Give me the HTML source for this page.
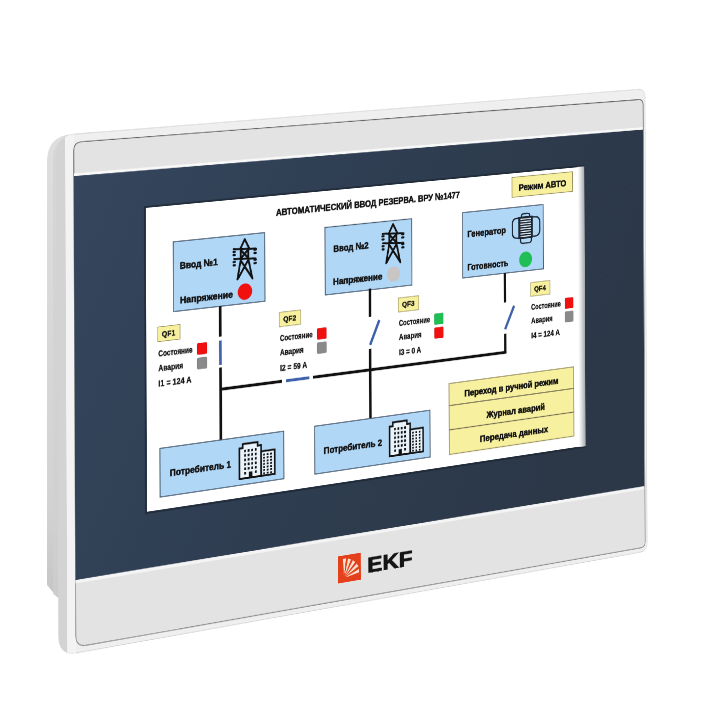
<!DOCTYPE html>
<html><head><meta charset="utf-8"><style>
html,body{margin:0;padding:0;background:#fff;width:720px;height:720px;overflow:hidden}
#side{position:absolute;left:0;top:0}
#plane{position:absolute;left:0;top:0;width:1160px;height:860px;transform-origin:0 0;transform:matrix3d(0.6251195189,-0.03381653369,0,0.0001130345282,0.00283459448,0.6824214927,0,-5.905477509e-07,0,0,1,0,23.60487165,110.1561996,0,1)}
#plane svg{display:block}
text{font-family:"Liberation Sans", sans-serif}
</style></head><body>
<svg id="side" width="720" height="720" viewBox="0 0 720 720"><defs><linearGradient id="hs" x1="0" y1="0" x2="0" y2="1"><stop offset="0" stop-color="#dedede"/><stop offset="0.8" stop-color="#d2d2d2"/><stop offset="1" stop-color="#c4c4c4"/></linearGradient></defs>
<path d="M47,585 L47,162 C47,147 53,138 66,135 L95,132 L95,605 L57,597 Z" fill="url(#hs)"/><path d="M53,595 L53,160 C53,150 57,141 66,137 L95,134 L95,605 Z" fill="#d0d0d0" opacity="0.6"/>
</svg>
<div id="plane"><svg width="1160" height="860" viewBox="-200 -160 1160 860">

<defs><linearGradient id="ng" x1="0" y1="0" x2="1" y2="0.3"><stop offset="0" stop-color="#35465d"/><stop offset="0.45" stop-color="#2f3e52"/><stop offset="1" stop-color="#2c3848"/></linearGradient><linearGradient id="gs" x1="0" y1="0" x2="0" y2="1"><stop offset="0" stop-color="#5e5e5e"/><stop offset="0.6" stop-color="#7a7a7a"/><stop offset="1" stop-color="#8a8a8a"/></linearGradient><clipPath id="rimclip"><path d="M-147.0,-89.0 Q-147.0,-119.0 -117.0,-119.0 L911.0,-119.0 Q925.0,-119.0 925.0,-105.0 L925.0,630.0 Q925.0,644.0 911.0,644.1 L-117.0,647.9 Q-147.0,648.0 -147.0,618.0 Z"/></clipPath></defs>
<path d="M-147.0,-89.0 Q-147.0,-119.0 -117.0,-119.0 L911.0,-119.0 Q925.0,-119.0 925.0,-105.0 L925.0,630.0 Q925.0,644.0 911.0,644.1 L-117.0,647.9 Q-147.0,648.0 -147.0,618.0 Z" fill="#efefef" stroke="#cfcfcf" stroke-width="1"/>
<g clip-path="url(#rimclip)">
<rect x="-147" y="-130" width="14" height="800" fill="#d3d3d3"/>
<rect x="-133" y="-130" width="14" height="800" fill="#f3f3f3"/>
</g>
<path d="M-119.0,-94.0 Q-119.0,-107.0 -106.0,-106.9 L912.0,-102.0 Q921.0,-102.0 921.0,-93.0 L921.0,628.0 Q921.0,637.0 912.0,637.0 L-102.0,639.0 Q-119.0,639.0 -119.0,622.0 Z" fill="#e3e3e3" stroke="url(#gs)" stroke-width="1.4"/>
<path d="M-119,-61 L920,-56 L920,-51 L-119,-56 Z" fill="#f8f8f8"/>
<path d="M-119,-57 L920,-52 L920,536.5 L-119,540 Z" fill="url(#ng)"/>
<path d="M-119,540 L920,536.5 L920,541.5 L-119,545 Z" fill="#f4f4f4"/>
<rect x="332" y="569" width="41" height="42" fill="#e5401c"/><clipPath id="lc"><rect x="335" y="573" width="35" height="34"/></clipPath><path clip-path="url(#lc)" d="M342.6,601.0 L340.8,574.0 L346.3,574.2 Z M343.5,601.2 L350.2,575.0 L355.3,576.9 Z M344.3,601.6 L358.8,578.8 L363.0,582.1 Z M345.0,602.3 L365.7,585.0 L368.8,589.5 Z M345.4,603.2 L370.7,593.6 L372.1,598.9 Z" fill="#fbe3d0"/>
<text x="385" y="602" font-size="33" font-weight="bold" fill="#151515" stroke="#151515" stroke-width="1.2" textLength="83" lengthAdjust="spacingAndGlyphs">EKF</text>

<g><rect x="0" y="0" width="800" height="455" fill="#ffffff"/>
<defs><linearGradient id="rg" x1="0" x2="1" y1="0" y2="0"><stop offset="0" stop-color="#ffffff"/><stop offset="0.55" stop-color="#d0d2d4"/><stop offset="1" stop-color="#a4a8ac"/></linearGradient></defs><rect x="789" y="-1" width="13" height="457" fill="url(#rg)"/>
<path d="M802,-1.5 L-2,-1.5 L-2,457 L802,457" fill="none" stroke="#1d2631" stroke-width="2.4" opacity="0.75"/>
<text x="224" y="31.5" font-size="15.5" font-weight="bold" fill="#111" stroke="#111" stroke-width="0.7" textLength="336" lengthAdjust="spacingAndGlyphs">АВТОМАТИЧЕСКИЙ ВВОД РЕЗЕРВА. ВРУ №1477</text>
<rect x="660" y="6.5" width="118.5" height="32" fill="#f7f09e" stroke="#9a9060" stroke-width="1.2"/>
<text x="673" y="29.5" font-size="15.5" font-weight="bold" fill="#111" stroke="#111" stroke-width="0.7" textLength="93" lengthAdjust="spacingAndGlyphs">Режим АВТО</text>
<rect x="46" y="55" width="158" height="105" fill="#b1d7f7" stroke="#46586c" stroke-width="1.5"/>
<rect x="311" y="56.5" width="158.5" height="104.5" fill="#b1d7f7" stroke="#46586c" stroke-width="1.5"/>
<rect x="565" y="55" width="155.5" height="104" fill="#b1d7f7" stroke="#46586c" stroke-width="1.5"/>
<text x="57" y="97" font-size="15" font-weight="bold" fill="#111" stroke="#111" stroke-width="0.7" textLength="65" lengthAdjust="spacingAndGlyphs">Ввод №1</text>
<text x="57" y="149.5" font-size="15" font-weight="bold" fill="#111" stroke="#111" stroke-width="0.7" textLength="91" lengthAdjust="spacingAndGlyphs">Напряжение</text>
<g fill="none" stroke="#111" stroke-width="3.2" stroke-linejoin="round" stroke-linecap="round"><path d="M161.0,76.5 L169.0,62.0 L177.0,77.0"/><path d="M149.5,75.5 L188.5,78.0 M150.5,90.5 L188.0,93.0"/><path d="M162.0,76.0 L162.0,92.0 L156.0,122.0 M175.0,77.0 L175.0,92.0 L182.0,123.0 M162.0,94.0 L181.0,121.0 M175.0,94.0 L157.0,121.0 M163.0,79.0 L174.0,90.0 M174.0,79.0 L163.0,90.0"/></g><rect x="147.5" y="77.7" width="6" height="3.6" rx="1.8" fill="#111"/><rect x="147.5" y="82.7" width="6" height="3.6" rx="1.8" fill="#111"/><rect x="147.5" y="93.2" width="6" height="3.6" rx="1.8" fill="#111"/><rect x="147.5" y="98.2" width="6" height="3.6" rx="1.8" fill="#111"/><rect x="184.0" y="77.7" width="6" height="3.6" rx="1.8" fill="#111"/><rect x="184.0" y="82.7" width="6" height="3.6" rx="1.8" fill="#111"/><rect x="184.0" y="93.2" width="6" height="3.6" rx="1.8" fill="#111"/><rect x="184.0" y="98.2" width="6" height="3.6" rx="1.8" fill="#111"/>
<circle cx="169" cy="142" r="12.5" fill="#f01010"/>
<text x="326" y="96" font-size="15" font-weight="bold" fill="#111" stroke="#111" stroke-width="0.7" textLength="64" lengthAdjust="spacingAndGlyphs">Ввод №2</text>
<text x="325" y="147" font-size="15" font-weight="bold" fill="#111" stroke="#111" stroke-width="0.7" textLength="90" lengthAdjust="spacingAndGlyphs">Напряжение</text>
<g fill="none" stroke="#111" stroke-width="3.2" stroke-linejoin="round" stroke-linecap="round"><path d="M427.0,76.5 L435.0,62.0 L443.0,77.0"/><path d="M415.5,75.5 L454.5,78.0 M416.5,90.5 L454.0,93.0"/><path d="M428.0,76.0 L428.0,92.0 L422.0,122.0 M441.0,77.0 L441.0,92.0 L448.0,123.0 M428.0,94.0 L447.0,121.0 M441.0,94.0 L423.0,121.0 M429.0,79.0 L440.0,90.0 M440.0,79.0 L429.0,90.0"/></g><rect x="413.5" y="77.7" width="6" height="3.6" rx="1.8" fill="#111"/><rect x="413.5" y="82.7" width="6" height="3.6" rx="1.8" fill="#111"/><rect x="413.5" y="93.2" width="6" height="3.6" rx="1.8" fill="#111"/><rect x="413.5" y="98.2" width="6" height="3.6" rx="1.8" fill="#111"/><rect x="450.0" y="77.7" width="6" height="3.6" rx="1.8" fill="#111"/><rect x="450.0" y="82.7" width="6" height="3.6" rx="1.8" fill="#111"/><rect x="450.0" y="93.2" width="6" height="3.6" rx="1.8" fill="#111"/><rect x="450.0" y="98.2" width="6" height="3.6" rx="1.8" fill="#111"/>
<circle cx="435.6" cy="140.4" r="12" fill="#c9c5c5"/>
<text x="574" y="95" font-size="15" font-weight="bold" fill="#111" stroke="#111" stroke-width="0.7" textLength="74" lengthAdjust="spacingAndGlyphs">Генератор</text>
<text x="574" y="148" font-size="15" font-weight="bold" fill="#111" stroke="#111" stroke-width="0.7" textLength="78" lengthAdjust="spacingAndGlyphs">Готовность</text>
<g transform="translate(0,90.5) scale(1,0.88) translate(0,-90.5)"><g fill="none" stroke="#1c2733" stroke-width="2.4" stroke-linejoin="round"><path d="M674.0,70.5 L670.0,70.5 Q660.5,70.5 660.5,80.0 L660.5,97.0 Q660.5,107.0 670.0,107.0 L674.0,107.0"/><path d="M699.0,71.0 L704.0,71.0 Q713.5,71.0 713.5,81.0 L713.5,96.0 Q713.5,106.5 704.0,106.5 L699.0,106.5"/><path d="M678.0,70.0 L678.0,67.0 Q678.0,63.5 682.0,63.5 L690.0,63.5 Q694.0,63.5 694.0,67.0 L694.0,70.0"/><path d="M676.0,108.0 L676.0,113.0 Q676.0,117.5 681.0,117.5 L692.0,117.5 Q697.0,117.5 697.0,113.0 L697.0,108.0"/><rect x="673" y="69.5" width="25.5" height="38.5" fill="#e6f0f8"/></g><line x1="674.5" y1="69" x2="674.5" y2="108.5" stroke="#1c2733" stroke-width="3"/><line x1="698" y1="69" x2="698" y2="108.5" stroke="#1c2733" stroke-width="3"/><line x1="675" y1="71.0" x2="697.5" y2="71.0" stroke="#1c2733" stroke-width="2.5"/><line x1="675" y1="75.5" x2="697.5" y2="75.5" stroke="#1c2733" stroke-width="2.5"/><line x1="675" y1="80.0" x2="697.5" y2="80.0" stroke="#1c2733" stroke-width="2.5"/><line x1="675" y1="84.5" x2="697.5" y2="84.5" stroke="#1c2733" stroke-width="2.5"/><line x1="675" y1="89.0" x2="697.5" y2="89.0" stroke="#1c2733" stroke-width="2.5"/><line x1="675" y1="93.5" x2="697.5" y2="93.5" stroke="#1c2733" stroke-width="2.5"/><line x1="675" y1="98.0" x2="697.5" y2="98.0" stroke="#1c2733" stroke-width="2.5"/><line x1="675" y1="102.5" x2="697.5" y2="102.5" stroke="#1c2733" stroke-width="2.5"/><line x1="675" y1="107.0" x2="697.5" y2="107.0" stroke="#1c2733" stroke-width="2.5"/></g>
<circle cx="685.7" cy="140.6" r="12.5" fill="#1fbf55"/>
<line x1="126" y1="160" x2="126" y2="206" stroke="#111" stroke-width="4.5"/>
<line x1="126" y1="212" x2="126" y2="249" stroke="#3f62aa" stroke-width="4.5"/>
<line x1="126" y1="253" x2="126" y2="363" stroke="#111" stroke-width="4.5"/>
<line x1="124" y1="286" x2="233" y2="286" stroke="#111" stroke-width="4.5"/>
<line x1="240" y1="286" x2="282" y2="286" stroke="#3f62aa" stroke-width="4.5"/>
<line x1="288" y1="286" x2="647.5" y2="286" stroke="#111" stroke-width="4.5"/>
<line x1="392" y1="159" x2="392" y2="203" stroke="#111" stroke-width="4.5"/>
<line x1="392" y1="247" x2="409" y2="210" stroke="#3f62aa" stroke-width="4.5"/>
<line x1="392" y1="253" x2="392" y2="362" stroke="#111" stroke-width="4.5"/>
<line x1="645.5" y1="159" x2="645.5" y2="206" stroke="#111" stroke-width="4.5"/>
<line x1="645.5" y1="249" x2="663" y2="213" stroke="#3f62aa" stroke-width="4.5"/>
<line x1="645.5" y1="256" x2="645.5" y2="288" stroke="#111" stroke-width="4.5"/>
<rect x="19" y="180.5" width="38" height="22" fill="#f7f09e" stroke="#9a9060" stroke-width="1"/>
<text x="26" y="196" font-size="11" font-weight="bold" fill="#111" stroke="#111" stroke-width="0.4" textLength="23" lengthAdjust="spacingAndGlyphs">QF1</text>
<text x="20" y="225" font-size="12.5" font-weight="bold" fill="#111" stroke="#111" stroke-width="0.4" textLength="58" lengthAdjust="spacingAndGlyphs">Состояние</text>
<text x="20" y="247" font-size="12.5" font-weight="bold" fill="#111" stroke="#111" stroke-width="0.4" textLength="42" lengthAdjust="spacingAndGlyphs">Авария</text>
<text x="20" y="270.5" font-size="12.5" font-weight="bold" fill="#111" stroke="#111" stroke-width="0.4" textLength="56" lengthAdjust="spacingAndGlyphs">I1 = 124 A</text>
<rect x="86" y="212" width="17" height="17.5" rx="2" fill="#f01010" stroke="#00000022" stroke-width="0.8"/>
<rect x="86" y="234" width="17" height="17.5" rx="2" fill="#8a8a8a" stroke="#00000022" stroke-width="0.8"/>
<rect x="229" y="179.8" width="38" height="22" fill="#f7f09e" stroke="#9a9060" stroke-width="1"/>
<text x="236" y="195.3" font-size="11" font-weight="bold" fill="#111" stroke="#111" stroke-width="0.4" textLength="23" lengthAdjust="spacingAndGlyphs">QF2</text>
<text x="230" y="224.3" font-size="12.5" font-weight="bold" fill="#111" stroke="#111" stroke-width="0.4" textLength="58" lengthAdjust="spacingAndGlyphs">Состояние</text>
<text x="230" y="246.3" font-size="12.5" font-weight="bold" fill="#111" stroke="#111" stroke-width="0.4" textLength="42" lengthAdjust="spacingAndGlyphs">Авария</text>
<text x="230" y="269.8" font-size="12.5" font-weight="bold" fill="#111" stroke="#111" stroke-width="0.4" textLength="48" lengthAdjust="spacingAndGlyphs">I2 = 59 A</text>
<rect x="296" y="211.3" width="17" height="17.5" rx="2" fill="#f01010" stroke="#00000022" stroke-width="0.8"/>
<rect x="296" y="233.3" width="17" height="17.5" rx="2" fill="#8a8a8a" stroke="#00000022" stroke-width="0.8"/>
<rect x="444" y="179.0" width="38" height="22" fill="#f7f09e" stroke="#9a9060" stroke-width="1"/>
<text x="451" y="194.5" font-size="11" font-weight="bold" fill="#111" stroke="#111" stroke-width="0.4" textLength="23" lengthAdjust="spacingAndGlyphs">QF3</text>
<text x="445" y="223.5" font-size="12.5" font-weight="bold" fill="#111" stroke="#111" stroke-width="0.4" textLength="58" lengthAdjust="spacingAndGlyphs">Состояние</text>
<text x="445" y="245.5" font-size="12.5" font-weight="bold" fill="#111" stroke="#111" stroke-width="0.4" textLength="42" lengthAdjust="spacingAndGlyphs">Авария</text>
<text x="445" y="269.0" font-size="12.5" font-weight="bold" fill="#111" stroke="#111" stroke-width="0.4" textLength="41" lengthAdjust="spacingAndGlyphs">I3 = 0 A</text>
<rect x="511" y="210.5" width="17" height="17.5" rx="2" fill="#1fbf55" stroke="#00000022" stroke-width="0.8"/>
<rect x="511" y="232.5" width="17" height="17.5" rx="2" fill="#f01010" stroke="#00000022" stroke-width="0.8"/>
<rect x="695" y="179.0" width="38" height="22" fill="#f7f09e" stroke="#9a9060" stroke-width="1"/>
<text x="702" y="194.5" font-size="11" font-weight="bold" fill="#111" stroke="#111" stroke-width="0.4" textLength="23" lengthAdjust="spacingAndGlyphs">QF4</text>
<text x="696" y="223.5" font-size="12.5" font-weight="bold" fill="#111" stroke="#111" stroke-width="0.4" textLength="58" lengthAdjust="spacingAndGlyphs">Состояние</text>
<text x="696" y="245.5" font-size="12.5" font-weight="bold" fill="#111" stroke="#111" stroke-width="0.4" textLength="42" lengthAdjust="spacingAndGlyphs">Авария</text>
<text x="696" y="269.0" font-size="12.5" font-weight="bold" fill="#111" stroke="#111" stroke-width="0.4" textLength="56" lengthAdjust="spacingAndGlyphs">I4 = 124 A</text>
<rect x="762" y="210.5" width="17" height="17.5" rx="2" fill="#f01010" stroke="#00000022" stroke-width="0.8"/>
<rect x="762" y="232.5" width="17" height="17.5" rx="2" fill="#8a8a8a" stroke="#00000022" stroke-width="0.8"/>
<rect x="22" y="363" width="214" height="73" fill="#b1d7f7" stroke="#46586c" stroke-width="1.5"/>
<text x="38.5" y="407.5" font-size="15.5" font-weight="bold" fill="#111" stroke="#111" stroke-width="0.7" textLength="105" lengthAdjust="spacingAndGlyphs">Потребитель 1</text>
<path d="M158.0,426.5 L158.0,380.0 L164.0,380.0 L164.0,374.0 L190.0,374.0 L190.0,379.5 L196.0,379.5 L196.0,426.5 Z" fill="#e9f3fb" stroke="#111" stroke-width="2.8" stroke-linejoin="miter"/><rect x="196" y="389.0" width="24" height="37.5" fill="#e9f3fb" stroke="#111" stroke-width="2.8"/><rect x="166.3" y="383.0" width="3.2" height="3.8" fill="#111"/><rect x="172.5" y="383.0" width="3.2" height="3.8" fill="#111"/><rect x="178.7" y="383.0" width="3.2" height="3.8" fill="#111"/><rect x="184.9" y="383.0" width="3.2" height="3.8" fill="#111"/><rect x="166.3" y="389.8" width="3.2" height="3.8" fill="#111"/><rect x="172.5" y="389.8" width="3.2" height="3.8" fill="#111"/><rect x="178.7" y="389.8" width="3.2" height="3.8" fill="#111"/><rect x="184.9" y="389.8" width="3.2" height="3.8" fill="#111"/><rect x="166.3" y="396.6" width="3.2" height="3.8" fill="#111"/><rect x="172.5" y="396.6" width="3.2" height="3.8" fill="#111"/><rect x="178.7" y="396.6" width="3.2" height="3.8" fill="#111"/><rect x="184.9" y="396.6" width="3.2" height="3.8" fill="#111"/><rect x="166.3" y="403.4" width="3.2" height="3.8" fill="#111"/><rect x="172.5" y="403.4" width="3.2" height="3.8" fill="#111"/><rect x="178.7" y="403.4" width="3.2" height="3.8" fill="#111"/><rect x="184.9" y="403.4" width="3.2" height="3.8" fill="#111"/><rect x="166.3" y="410.2" width="3.2" height="3.8" fill="#111"/><rect x="172.5" y="410.2" width="3.2" height="3.8" fill="#111"/><rect x="178.7" y="410.2" width="3.2" height="3.8" fill="#111"/><rect x="184.9" y="410.2" width="3.2" height="3.8" fill="#111"/><rect x="166.3" y="417.0" width="3.2" height="3.8" fill="#111"/><rect x="184.9" y="417.0" width="3.2" height="3.8" fill="#111"/><rect x="174.5" y="417.5" width="6" height="9" fill="#111"/><rect x="199.5" y="393.2" width="3.2" height="2.8" fill="#111"/><rect x="205.7" y="393.2" width="3.2" height="2.8" fill="#111"/><rect x="211.9" y="393.2" width="3.2" height="2.8" fill="#111"/><rect x="199.5" y="397.9" width="3.2" height="2.8" fill="#111"/><rect x="205.7" y="397.9" width="3.2" height="2.8" fill="#111"/><rect x="211.9" y="397.9" width="3.2" height="2.8" fill="#111"/><rect x="199.5" y="402.7" width="3.2" height="2.8" fill="#111"/><rect x="205.7" y="402.7" width="3.2" height="2.8" fill="#111"/><rect x="211.9" y="402.7" width="3.2" height="2.8" fill="#111"/><rect x="199.5" y="407.4" width="3.2" height="2.8" fill="#111"/><rect x="205.7" y="407.4" width="3.2" height="2.8" fill="#111"/><rect x="211.9" y="407.4" width="3.2" height="2.8" fill="#111"/><rect x="199.5" y="412.2" width="3.2" height="2.8" fill="#111"/><rect x="205.7" y="412.2" width="3.2" height="2.8" fill="#111"/><rect x="211.9" y="412.2" width="3.2" height="2.8" fill="#111"/><rect x="199.5" y="416.9" width="3.2" height="2.8" fill="#111"/><rect x="205.7" y="416.9" width="3.2" height="2.8" fill="#111"/><rect x="211.9" y="416.9" width="3.2" height="2.8" fill="#111"/><rect x="199.5" y="421.7" width="3.2" height="2.8" fill="#111"/><rect x="205.7" y="421.7" width="3.2" height="2.8" fill="#111"/><rect x="211.9" y="421.7" width="3.2" height="2.8" fill="#111"/>
<rect x="291" y="362" width="211" height="74" fill="#b1d7f7" stroke="#46586c" stroke-width="1.5"/>
<text x="307" y="407.5" font-size="15.5" font-weight="bold" fill="#111" stroke="#111" stroke-width="0.7" textLength="106" lengthAdjust="spacingAndGlyphs">Потребитель 2</text>
<path d="M427.0,425.5 L427.0,379.0 L433.0,379.0 L433.0,373.0 L459.0,373.0 L459.0,378.5 L465.0,378.5 L465.0,425.5 Z" fill="#e9f3fb" stroke="#111" stroke-width="2.8" stroke-linejoin="miter"/><rect x="465" y="388.0" width="24" height="37.5" fill="#e9f3fb" stroke="#111" stroke-width="2.8"/><rect x="435.3" y="382.0" width="3.2" height="3.8" fill="#111"/><rect x="441.5" y="382.0" width="3.2" height="3.8" fill="#111"/><rect x="447.7" y="382.0" width="3.2" height="3.8" fill="#111"/><rect x="453.9" y="382.0" width="3.2" height="3.8" fill="#111"/><rect x="435.3" y="388.8" width="3.2" height="3.8" fill="#111"/><rect x="441.5" y="388.8" width="3.2" height="3.8" fill="#111"/><rect x="447.7" y="388.8" width="3.2" height="3.8" fill="#111"/><rect x="453.9" y="388.8" width="3.2" height="3.8" fill="#111"/><rect x="435.3" y="395.6" width="3.2" height="3.8" fill="#111"/><rect x="441.5" y="395.6" width="3.2" height="3.8" fill="#111"/><rect x="447.7" y="395.6" width="3.2" height="3.8" fill="#111"/><rect x="453.9" y="395.6" width="3.2" height="3.8" fill="#111"/><rect x="435.3" y="402.4" width="3.2" height="3.8" fill="#111"/><rect x="441.5" y="402.4" width="3.2" height="3.8" fill="#111"/><rect x="447.7" y="402.4" width="3.2" height="3.8" fill="#111"/><rect x="453.9" y="402.4" width="3.2" height="3.8" fill="#111"/><rect x="435.3" y="409.2" width="3.2" height="3.8" fill="#111"/><rect x="441.5" y="409.2" width="3.2" height="3.8" fill="#111"/><rect x="447.7" y="409.2" width="3.2" height="3.8" fill="#111"/><rect x="453.9" y="409.2" width="3.2" height="3.8" fill="#111"/><rect x="435.3" y="416.0" width="3.2" height="3.8" fill="#111"/><rect x="453.9" y="416.0" width="3.2" height="3.8" fill="#111"/><rect x="443.5" y="416.5" width="6" height="9" fill="#111"/><rect x="468.5" y="392.2" width="3.2" height="2.8" fill="#111"/><rect x="474.7" y="392.2" width="3.2" height="2.8" fill="#111"/><rect x="480.9" y="392.2" width="3.2" height="2.8" fill="#111"/><rect x="468.5" y="396.9" width="3.2" height="2.8" fill="#111"/><rect x="474.7" y="396.9" width="3.2" height="2.8" fill="#111"/><rect x="480.9" y="396.9" width="3.2" height="2.8" fill="#111"/><rect x="468.5" y="401.7" width="3.2" height="2.8" fill="#111"/><rect x="474.7" y="401.7" width="3.2" height="2.8" fill="#111"/><rect x="480.9" y="401.7" width="3.2" height="2.8" fill="#111"/><rect x="468.5" y="406.4" width="3.2" height="2.8" fill="#111"/><rect x="474.7" y="406.4" width="3.2" height="2.8" fill="#111"/><rect x="480.9" y="406.4" width="3.2" height="2.8" fill="#111"/><rect x="468.5" y="411.2" width="3.2" height="2.8" fill="#111"/><rect x="474.7" y="411.2" width="3.2" height="2.8" fill="#111"/><rect x="480.9" y="411.2" width="3.2" height="2.8" fill="#111"/><rect x="468.5" y="415.9" width="3.2" height="2.8" fill="#111"/><rect x="474.7" y="415.9" width="3.2" height="2.8" fill="#111"/><rect x="480.9" y="415.9" width="3.2" height="2.8" fill="#111"/><rect x="468.5" y="420.7" width="3.2" height="2.8" fill="#111"/><rect x="474.7" y="420.7" width="3.2" height="2.8" fill="#111"/><rect x="480.9" y="420.7" width="3.2" height="2.8" fill="#111"/>
<rect x="538" y="324" width="241" height="112.5" fill="#f7f09e" stroke="#9a9060" stroke-width="1.5"/>
<line x1="538" y1="359" x2="779" y2="359" stroke="#6b6650" stroke-width="1.5"/>
<line x1="538" y1="397.5" x2="779" y2="397.5" stroke="#6b6650" stroke-width="1.5"/>
<text x="567" y="348" font-size="14" font-weight="bold" fill="#111" stroke="#111" stroke-width="0.7" textLength="182" lengthAdjust="spacingAndGlyphs">Переход в ручной режим</text>
<text x="609" y="387" font-size="14" font-weight="bold" fill="#111" stroke="#111" stroke-width="0.7" textLength="113" lengthAdjust="spacingAndGlyphs">Журнал аварий</text>
<text x="596" y="424" font-size="14" font-weight="bold" fill="#111" stroke="#111" stroke-width="0.7" textLength="132" lengthAdjust="spacingAndGlyphs">Передача данных</text></g>
</svg></div>
</body></html>
